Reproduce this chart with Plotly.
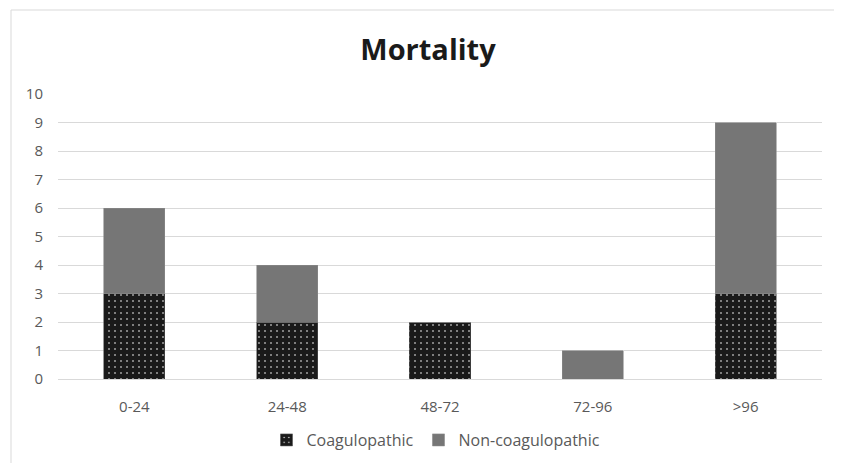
import plotly.graph_objects as go

categories = ["0-24", "24-48", "48-72", "72-96", ">96"]
coagulopathic = [3, 2, 2, 0, 3]
non_coagulopathic = [3, 2, 0, 1, 6]
y_ticks = list(range(0, 11))

OFF = 8  # page body margin
W, H = 842 - OFF, 463 - OFF
ml, mt = 58 - OFF, 94 - OFF
pr, pb = 822 - OFF, 379 - OFF
mr, mb = W - pr, H - pb
pw, ph = pr - ml, pb - mt

fig = go.Figure()
fig.add_trace(go.Bar(
    x=categories, y=coagulopathic, name="Coagulopathic",
    marker=dict(color="#1a1a1a", line=dict(color="#555555", width=0.6),
                pattern=dict(shape=".", fgcolor="white", bgcolor="#1a1a1a",
                             size=6, solidity=0.06, fillmode="replace")),
))
fig.add_trace(go.Bar(
    x=categories, y=non_coagulopathic, name="Non-coagulopathic",
    marker=dict(color="#767676", line=dict(color="#8a8a8a", width=0.6)),
))

font_family = "Open Sans, Liberation Sans, sans-serif"
fig.update_layout(
    width=W, height=H,
    barmode="stack", bargap=0.6,
    margin=dict(l=ml, r=mr, t=mt, b=mb, autoexpand=False),
    paper_bgcolor="white", plot_bgcolor="white",
    font=dict(family=font_family, color="#595959", size=15),
    title=dict(text="<b>Mortality</b>", x=(428 - 58) / pw, xref="paper", xanchor="center",
               y=1 - (50 - OFF) / H, yanchor="middle",
               font=dict(size=29, color="#1a1a1a", family=font_family)),
    xaxis=dict(showgrid=False, showline=True, linecolor="#d9d9d9", linewidth=1,
               ticks="", tickfont=dict(size=15, color="#595959"), ticklabelstandoff=14),
    yaxis=dict(range=[0, 10], tickvals=y_ticks, showgrid=True, gridcolor="#d9d9d9",
               gridwidth=1, zeroline=False, showline=False, ticks="",
               tickfont=dict(size=15, color="#595959"), ticklabelstandoff=14),
    legend=dict(orientation="h", x=(436 - 58) / pw, xanchor="center", y=-(440 - 379) / ph,
                yanchor="middle", font=dict(size=16, color="#595959"),
                itemwidth=30, traceorder="normal"),
    shapes=[
        dict(type="line", xref="paper", yref="paper",
             x0=(11 - 58) / pw, x1=(11 - 58) / pw,
             y0=-(mb + 5) / ph, y1=1 + (94 - 10) / ph,
             line=dict(color="#d9d9d9", width=1)),
        dict(type="line", xref="paper", yref="paper",
             x0=(11 - 58) / pw, x1=1 + (mr + 5) / pw,
             y0=1 + (94 - 10) / ph, y1=1 + (94 - 10) / ph,
             line=dict(color="#d9d9d9", width=1)),
    ],
)

fig.write_html("out.html")
